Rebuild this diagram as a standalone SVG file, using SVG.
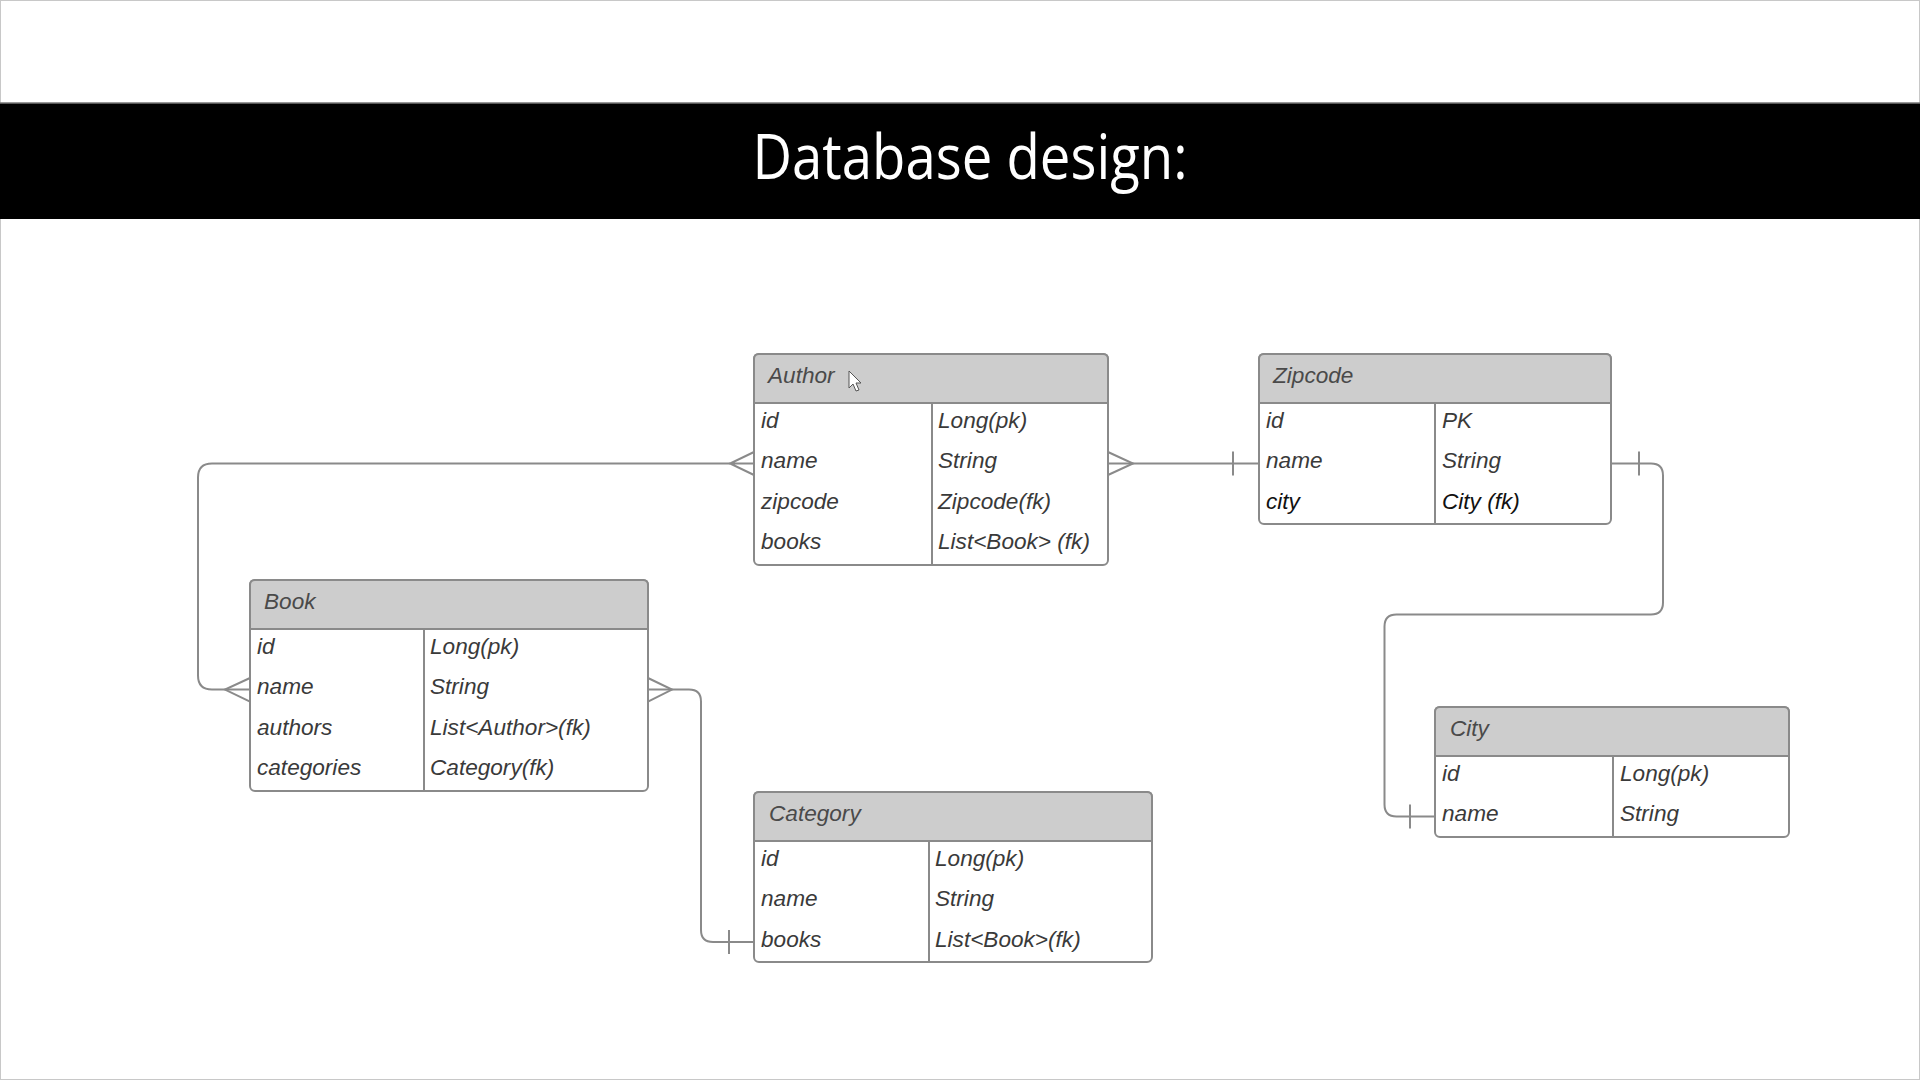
<svg xmlns="http://www.w3.org/2000/svg" width="1920" height="1080" viewBox="0 0 1920 1080">
  <style>
    .box{fill:#ffffff;stroke:#8a8a8a;stroke-width:2}
    .hdr{fill:#cdcdcd;stroke:#8a8a8a;stroke-width:2}
    .div{stroke:#8a8a8a;stroke-width:2}
    .t{font-family:"Liberation Sans",Arial,sans-serif;font-style:italic;font-size:22.6px;fill:#3a3a3a}
    .h{font-family:"Liberation Sans",Arial,sans-serif;font-style:italic;font-size:22.6px;fill:#4a4a4a}
    .dk{fill:#111111}
    .c{fill:none;stroke:#8a8a8a;stroke-width:2}
  </style>
  <rect x="0" y="0" width="1920" height="1080" fill="#ffffff"/>
  <rect x="0.5" y="0.5" width="1919" height="1079" fill="none" stroke="#c8c8c8" stroke-width="1"/>
  <g id="title">
    <rect x="0" y="103" width="1920" height="116" fill="#000000"/>
    <line x1="0" y1="103" x2="1920" y2="103" stroke="#777" stroke-width="1.5"/>
    <text x="970" y="179" text-anchor="middle" font-family="'Open Sans','Liberation Sans',Arial,sans-serif" font-size="62" fill="#ffffff" textLength="435" lengthAdjust="spacingAndGlyphs">Database design:</text>
  </g>

  <g id="connectors">
    <!-- Author.name to Book.name -->
    <path class="c" d="M730,463.5 H212 Q198,463.5 198,477.5 V675.6 Q198,689.6 212,689.6 H250"/>
    <path class="c" d="M754,452 L730,463.5 L754,475 M730,463.5 H754"/>
    <path class="c" d="M250,678 L225,689.6 L250,701.6"/>
    <!-- Author.name to Zipcode.name -->
    <path class="c" d="M1108,463.5 H1259"/>
    <path class="c" d="M1108,452 L1133,463.5 L1108,475"/>
    <path class="c" d="M1233,451.5 V475.5"/>
    <!-- Zipcode.name to City.name -->
    <path class="c" d="M1611,463.5 H1651 Q1663,463.5 1663,475.5 V602.5 Q1663,614.5 1651,614.5 H1396.5 Q1384.5,614.5 1384.5,626.5 V804.6 Q1384.5,816.6 1396.5,816.6 H1435"/>
    <path class="c" d="M1639,451.5 V475.5"/>
    <path class="c" d="M1410,804.6 V828.6"/>
    <!-- Book.name to Category.books -->
    <path class="c" d="M648,689.6 H689 Q701,689.6 701,701.6 V930 Q701,942 713,942 H754"/>
    <path class="c" d="M648,678 L672,689.6 L648,701.6"/>
    <path class="c" d="M729,930 V954"/>
  </g>

  <g id="author">
    <rect class="box" x="754" y="354" width="354" height="211" rx="5"/>
    <path class="hdr" d="M754,403 V359 Q754,354 759,354 H1103 Q1108,354 1108,359 V403 Z"/>
    <line class="div" x1="932" y1="403" x2="932" y2="565"/>
    <text class="h" x="768" y="383">Author</text>
    <text class="t" x="761" y="428">id</text>
    <text class="t" x="761" y="468.4">name</text>
    <text class="t" x="761" y="508.8">zipcode</text>
    <text class="t" x="761" y="549.2">books</text>
    <text class="t" x="938" y="428">Long(pk)</text>
    <text class="t" x="938" y="468.4">String</text>
    <text class="t" x="938" y="508.8">Zipcode(fk)</text>
    <text class="t" x="938" y="549.2">List&lt;Book&gt; (fk)</text>
  </g>

  <g id="zipcode">
    <rect class="box" x="1259" y="354" width="352" height="170" rx="5"/>
    <path class="hdr" d="M1259,403 V359 Q1259,354 1264,354 H1606 Q1611,354 1611,359 V403 Z"/>
    <line class="div" x1="1435" y1="403" x2="1435" y2="524"/>
    <text class="h" x="1273" y="383">Zipcode</text>
    <text class="t" x="1266" y="428">id</text>
    <text class="t" x="1266" y="468.4">name</text>
    <text class="t dk" x="1266" y="508.8">city</text>
    <text class="t" x="1442" y="428">PK</text>
    <text class="t" x="1442" y="468.4">String</text>
    <text class="t dk" x="1442" y="508.8">City (fk)</text>
  </g>

  <g id="book">
    <rect class="box" x="250" y="580" width="398" height="211" rx="5"/>
    <path class="hdr" d="M250,629 V585 Q250,580 255,580 H643 Q648,580 648,585 V629 Z"/>
    <line class="div" x1="424" y1="629" x2="424" y2="791"/>
    <text class="h" x="264" y="609">Book</text>
    <text class="t" x="257" y="654">id</text>
    <text class="t" x="257" y="694.4">name</text>
    <text class="t" x="257" y="734.8">authors</text>
    <text class="t" x="257" y="775.2">categories</text>
    <text class="t" x="430" y="654">Long(pk)</text>
    <text class="t" x="430" y="694.4">String</text>
    <text class="t" x="430" y="734.8">List&lt;Author&gt;(fk)</text>
    <text class="t" x="430" y="775.2">Category(fk)</text>
  </g>

  <g id="category">
    <rect class="box" x="754" y="792" width="398" height="170" rx="5"/>
    <path class="hdr" d="M754,841 V797 Q754,792 759,792 H1147 Q1152,792 1152,797 V841 Z"/>
    <line class="div" x1="929" y1="841" x2="929" y2="962"/>
    <text class="h" x="769" y="821">Category</text>
    <text class="t" x="761" y="866">id</text>
    <text class="t" x="761" y="906.4">name</text>
    <text class="t" x="761" y="946.8">books</text>
    <text class="t" x="935" y="866">Long(pk)</text>
    <text class="t" x="935" y="906.4">String</text>
    <text class="t" x="935" y="946.8">List&lt;Book&gt;(fk)</text>
  </g>

  <g id="city">
    <rect class="box" x="1435" y="707" width="354" height="130" rx="5"/>
    <path class="hdr" d="M1435,756 V712 Q1435,707 1440,707 H1784 Q1789,707 1789,712 V756 Z"/>
    <line class="div" x1="1613" y1="756" x2="1613" y2="837"/>
    <text class="h" x="1450" y="736">City</text>
    <text class="t" x="1442" y="781">id</text>
    <text class="t" x="1442" y="821.4">name</text>
    <text class="t" x="1620" y="781">Long(pk)</text>
    <text class="t" x="1620" y="821.4">String</text>
  </g>

  <g id="cursor">
    <polygon points="849,371 849,388 853,384 856,391 859,390 856,383 861,383" fill="#ffffff" stroke="#555555" stroke-width="1"/>
  </g>
</svg>
